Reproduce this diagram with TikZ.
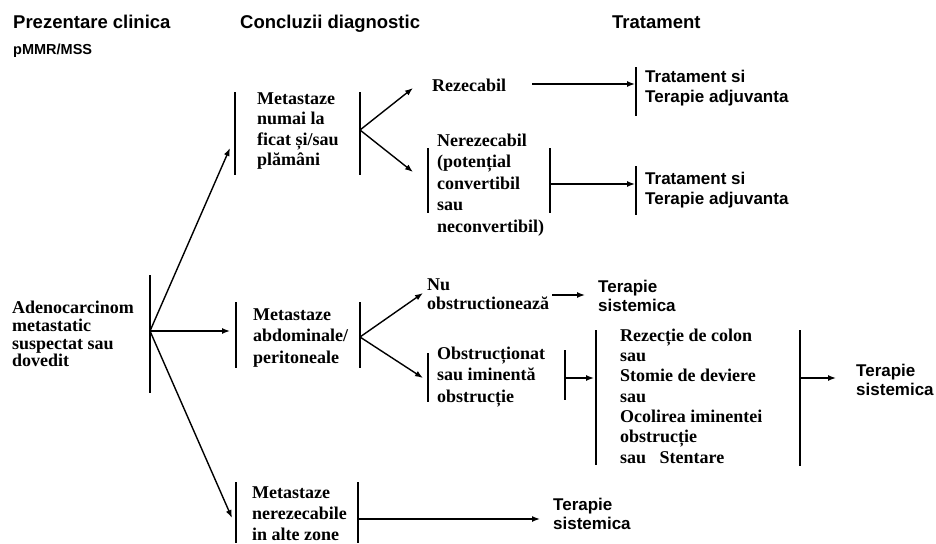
\documentclass[tikz,border=0pt]{standalone}
\usepackage{fontspec}
\setmainfont{Liberation Serif}
\newfontfamily\hs{Liberation Sans}
\usetikzlibrary{arrows.meta}
\tikzset{
  barline/.style={line width=1.8pt},
  arr/.style={line width=1.4pt,-{Latex[length=8pt,width=6pt]}},
  body/.style={anchor=west,inner sep=0pt,align=left,font=\bfseries\fontsize{18}{21.5}\selectfont},
  bodytight/.style={anchor=west,inner sep=0pt,align=left,font=\bfseries\fontsize{18}{17.8}\selectfont},
  hdr/.style={anchor=base west,inner sep=0pt,font=\hs\bfseries\fontsize{18.5}{20}\selectfont},
  trt/.style={anchor=west,inner sep=0pt,align=left,font=\hs\bfseries\fontsize{17}{19.5}\selectfont},
}
\begin{document}
\begin{tikzpicture}[x=1pt,y=-1pt]
\useasboundingbox (0,0) rectangle (936,543);
% headers
\node[hdr] (h1) at (13,29) {Prezentare clinica};
\node[hdr,font=\hs\bfseries\fontsize{14.5}{16}\selectfont] (h1b) at (13,55) {pMMR/MSS};
\node[hdr] (h2) at (240,29) {Concluzii diagnostic};
\node[hdr] (h3) at (612,29) {Tratament};

% column 1
\node[bodytight] (adeno) at (12,334) {Adenocarcinom\\metastatic\\suspectat sau\\dovedit};
\coordinate (b0t) at (150,275); \coordinate (b0b) at (150,393); \coordinate (b0) at (150,331);
\draw[barline] (b0t) -- (b0b);

% column 2 top
\coordinate (m1t) at (235,92); \coordinate (m1b) at (235,175);
\coordinate (m1rt) at (360,92); \coordinate (m1rb) at (360,175); \coordinate (b1) at (360,130);
\draw[barline] (m1t) -- (m1b);
\draw[barline] (m1rt) -- (m1rb);
\node[body,font=\bfseries\fontsize{18}{20.5}\selectfont] (m1) at (257,131) {Metastaze\\numai la\\ficat și/sau\\plămâni};
\coordinate (e1) at (230,148);
\draw[arr] (b0) -- (e1);

% column 2 middle
\coordinate (m2t) at (236,302); \coordinate (m2b) at (236,368);
\coordinate (m2rt) at (360,302); \coordinate (m2rb) at (360,368); \coordinate (b2) at (360,337);
\draw[barline] (m2t) -- (m2b);
\draw[barline] (m2rt) -- (m2rb);
\node[body] (m2) at (253,338) {Metastaze\\abdominale/\\peritoneale};
\coordinate (e2) at (230,331);
\draw[arr] (b0) -- (e2);

% column 2 bottom
\coordinate (m3t) at (236,482); \coordinate (m3b) at (236,543);
\coordinate (m3rt) at (358,482); \coordinate (m3rb) at (358,543); \coordinate (b3) at (358,519);
\draw[barline] (m3t) -- (m3b);
\draw[barline] (m3rt) -- (m3rb);
\node[body,font=\bfseries\fontsize{18}{21}\selectfont] (m3) at (252,514) {Metastaze\\nerezecabile\\in alte zone};
\coordinate (e3) at (232,518);
\draw[arr] (b0) -- (e3);

% top branch
\coordinate (e11) at (413,88); \coordinate (e12) at (413,172);
\draw[arr] (b1) -- (e11);
\draw[arr] (b1) -- (e12);
\node[body] (rez) at (432,85) {Rezecabil};
\coordinate (r1s) at (532,84); \coordinate (r1e) at (635,84);
\draw[arr] (r1s) -- (r1e);
\coordinate (t1t) at (636,67); \coordinate (t1b) at (636,116);
\draw[barline] (t1t) -- (t1b);
\node[trt] (t1) at (645,88) {Tratament si\\Terapie adjuvanta};

\node[body] (nerez) at (437,185) {Nerezecabil\\(potențial\\convertibil\\sau\\neconvertibil)};
\coordinate (n1t) at (428,148); \coordinate (n1b) at (428,213);
\coordinate (n1rt) at (550,148); \coordinate (n1rb) at (550,213); \coordinate (n1r) at (550,184);
\draw[barline] (n1t) -- (n1b);
\draw[barline] (n1rt) -- (n1rb);
\coordinate (r2e) at (635,184);
\draw[arr] (n1r) -- (r2e);
\coordinate (t2t) at (636,166); \coordinate (t2b) at (636,215);
\draw[barline] (t2t) -- (t2b);
\node[trt] (t2) at (645,190) {Tratament si\\Terapie adjuvanta};

% middle branch
\coordinate (e21) at (423,293); \coordinate (e22) at (423,378);
\draw[arr] (b2) -- (e21);
\draw[arr] (b2) -- (e22);
\node[body,font=\bfseries\fontsize{18}{18.5}\selectfont] (nu) at (427,294) {Nu\\obstructionează};
\coordinate (nus) at (552,295); \coordinate (nue) at (585,295);
\draw[arr] (nus) -- (nue);
\node[trt] (ts1) at (598,296) {Terapie\\sistemica};

\coordinate (o1t) at (428,353); \coordinate (o1b) at (428,402);
\coordinate (o1rt) at (565,350); \coordinate (o1rb) at (565,400); \coordinate (o1r) at (565,378);
\draw[barline] (o1t) -- (o1b);
\draw[barline] (o1rt) -- (o1rb);
\node[body] (obs) at (437,377) {Obstrucționat\\sau iminentă\\obstrucție};
\coordinate (o1e) at (594,378);
\draw[arr] (o1r) -- (o1e);

\coordinate (p1t) at (596,330); \coordinate (p1b) at (596,465);
\coordinate (p1rt) at (800,330); \coordinate (p1rb) at (800,466); \coordinate (p1r) at (800,378);
\draw[barline] (p1t) -- (p1b);
\draw[barline] (p1rt) -- (p1rb);
\node[body,font=\bfseries\fontsize{18}{20.3}\selectfont] (proc) at (620,396) {Rezecție de colon\\sau\\Stomie de deviere\\sau\\Ocolirea iminentei\\obstrucție\\sau\ \ \ Stentare};
\coordinate (p1e) at (836,378);
\draw[arr] (p1r) -- (p1e);
\node[trt] (ts2) at (856,380) {Terapie\\sistemica};

% bottom branch
\coordinate (b3e) at (540,519);
\draw[arr] (b3) -- (b3e);
\node[trt] (ts3) at (553,514) {Terapie\\sistemica};
\end{tikzpicture}
\end{document}
